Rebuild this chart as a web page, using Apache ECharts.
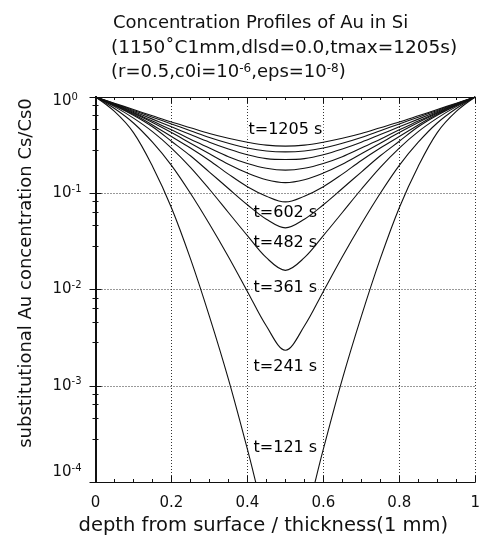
<!DOCTYPE html>
<html><head><meta charset="utf-8">
<script src="https://cdn.jsdelivr.net/npm/echarts@6/dist/echarts.min.js"></script>
<style>html,body{margin:0;padding:0;background:#fff}#c{width:483px;height:541px}</style>
</head><body><div id="c"></div>
<script>
// depth / thickness
const xValues = [0,0.05,0.1,0.15,0.2,0.25,0.3,0.35,0.4,0.45,0.5,0.55,0.6,0.65,0.7,0.75,0.8,0.85,0.9,0.95,1];
// Cs/Cs0 profiles
const c121  = [1,0.708,0.427,0.191,0.0708,0.0209,0.00525,0.00117,0.000219,0.000038,0.00001,0.000038,0.000219,0.00117,0.00525,0.0209,0.0708,0.191,0.427,0.708,1];
const c241  = [1,0.759,0.537,0.339,0.195,0.100,0.0479,0.0219,0.00955,0.00417,0.00234,0.00417,0.00955,0.0219,0.0479,0.100,0.195,0.339,0.537,0.759,1];
const c361  = [1,0.794,0.603,0.437,0.295,0.186,0.110,0.0631,0.0363,0.0214,0.0158,0.0214,0.0363,0.0631,0.110,0.186,0.295,0.437,0.603,0.794,1];
const c482  = [1,0.813,0.646,0.490,0.347,0.245,0.166,0.112,0.0759,0.0537,0.0437,0.0537,0.0759,0.112,0.166,0.245,0.347,0.490,0.646,0.813,1];
const c602  = [1,0.822,0.661,0.513,0.389,0.295,0.219,0.158,0.117,0.0933,0.0813,0.0933,0.117,0.158,0.219,0.295,0.389,0.513,0.661,0.822,1];
const c723  = [1,0.832,0.676,0.543,0.427,0.331,0.257,0.200,0.162,0.138,0.129,0.138,0.162,0.200,0.257,0.331,0.427,0.543,0.676,0.832,1];
const c843  = [1,0.838,0.692,0.562,0.457,0.363,0.295,0.240,0.204,0.182,0.174,0.182,0.204,0.240,0.295,0.363,0.457,0.562,0.692,0.838,1];
const c964  = [1,0.845,0.708,0.589,0.490,0.407,0.339,0.288,0.251,0.229,0.224,0.229,0.251,0.288,0.339,0.407,0.490,0.589,0.708,0.845,1];
const c1084 = [1,0.853,0.724,0.617,0.525,0.447,0.380,0.331,0.295,0.275,0.269,0.275,0.295,0.331,0.380,0.447,0.525,0.617,0.724,0.853,1];
const c1205 = [1,0.861,0.741,0.638,0.550,0.479,0.417,0.372,0.339,0.316,0.309,0.316,0.339,0.372,0.417,0.479,0.550,0.638,0.741,0.861,1];
const times = ['121','241','361','482','602','723','843','964','1084','1205'];
const profiles = [c121,c241,c361,c482,c602,c723,c843,c964,c1084,c1205];
// curve annotations
const labelTexts = ['t=1205 s','t=602 s','t=482 s','t=361 s','t=241 s','t=121 s'];
const labelX = [0.5,0.5,0.5,0.5,0.5,0.5];
const labelY = [0.454,0.0624,0.0304,0.0104,0.00157,0.000226];
const xTickLabels = {0:'0',0.2:'0.2',0.4:'0.4',0.6:'0.6',0.8:'0.8',1:'1'};

const FONT = 'DejaVu Sans';
const chart = echarts.init(document.getElementById('c'), null, {renderer:'canvas'});

const series = profiles.map((arr, k) => ({
  type: 'line', name: 't=' + times[k] + ' s',
  data: xValues.map((x, i) => [x, arr[i]]),
  smooth: 0.35, showSymbol: false, symbol: 'none', clip: true, z: 3,
  lineStyle: {color: '#111', width: 1.1}
}));
series.push({
  type: 'scatter', z: 1, symbolSize: 1, itemStyle: {color: 'rgba(0,0,0,0)'},
  data: labelX.map((x, i) => [x, labelY[i]]),
  label: {show: true, position: 'inside', formatter: p => labelTexts[p.dataIndex],
    fontFamily: FONT, fontSize: 16, color: '#000', opacity: 1, backgroundColor: '#fff', padding: [0, 1]}
});

const supFmt = v => {
  const e = Math.round(Math.log10(v));
  if (e === 0) return '{g| }\n{b|10}{s|' + e + '}';
  if (e === -4) return '{b|10}{s|' + e + '}\n{g2| }';
  return '{b|10}{s|' + e + '}';
};
const tickRich = {
  b:  {fontFamily: FONT, fontSize: 15, color: '#111', lineHeight: 18},
  s:  {fontFamily: FONT, fontSize: 10, color: '#111', lineHeight: 10, verticalAlign: 'top'},
  g:  {fontSize: 4, lineHeight: 8},
  g2: {fontSize: 10, lineHeight: 20}
};

chart.setOption({
  animation: false,
  backgroundColor: '#fff',
  title: [
    {text: 'Concentration Profiles of Au in Si', left: 108, top: 9,
     textStyle: {fontFamily: FONT, fontSize: 18, fontWeight: 'normal', color: '#111'}},
    {text: '(1150\u02daC1mm,dlsd=0.0,tmax=1205s)', left: 106, top: 34,
     textStyle: {fontFamily: FONT, fontSize: 18.5, fontWeight: 'normal', color: '#111'}},
    {text: '(r=0.5,c0i=10{s|-6},eps=10{s|-8})', left: 106, top: 58,
     textStyle: {fontFamily: FONT, fontSize: 18, fontWeight: 'normal', color: '#111',
       rich: {s: {fontFamily: FONT, fontSize: 12, color: '#111', verticalAlign: 'top', lineHeight: 12}}}}
  ],
  graphic: [
    {type: 'text', x: 26, y: 273, rotation: Math.PI / 2,
     style: {text: 'substitutional Au concentration Cs/Cs0', fontFamily: FONT, fontSize: 18,
       fill: '#111', align: 'center', verticalAlign: 'middle'}}
  ],
  grid: {left: 95.5, right: 6, top: 97, bottom: 59, containLabel: false},
  xAxis: [
    {type: 'value', min: 0, max: 1, interval: 0.2, position: 'bottom',
     name: 'depth from surface / thickness(1 mm)', nameLocation: 'middle', nameGap: 34,
     nameTextStyle: {fontFamily: FONT, fontSize: 19.5, color: '#111', padding: [0, 44, 0, 0]},
     axisLine: {show: true, lineStyle: {color: '#111', width: 1.2}},
     axisTick: {show: true, inside: true, length: 6, lineStyle: {color: '#111'}},
     minorTick: {show: true, splitNumber: 4, length: 3, lineStyle: {color: '#111'}},
     splitLine: {show: true, lineStyle: {type: [1, 2], color: '#333', width: 1}},
     axisLabel: {margin: 14, fontFamily: FONT, fontSize: 15, color: '#111',
       formatter: v => xTickLabels[Math.round(v*10)/10]}},
    {type: 'value', min: 0, max: 1, interval: 0.2, position: 'top',
     axisLine: {show: true, lineStyle: {color: '#111', width: 1.2}},
     axisTick: {show: true, inside: true, length: 6, lineStyle: {color: '#111'}},
     minorTick: {show: true, splitNumber: 4, length: 3, lineStyle: {color: '#111'}},
     splitLine: {show: false}, axisLabel: {show: false}}
  ],
  yAxis: [
    {type: 'log', logBase: 10, min: 0.0001, max: 1, position: 'left',
     axisLine: {show: true, lineStyle: {color: '#111', width: 2}},
     axisTick: {show: true, inside: true, length: 6, lineStyle: {color: '#111'}},
     minorTick: {show: true, splitNumber: 5, length: 3, lineStyle: {color: '#111'}},
     splitLine: {show: true, lineStyle: {type: [1, 2], color: '#333', width: 1}},
     axisLabel: {margin: 43, align: 'left', formatter: supFmt, rich: tickRich}},
    {type: 'log', logBase: 10, min: 0.0001, max: 1, position: 'right',
     axisLine: {show: true, lineStyle: {color: '#111', width: 2}},
     axisTick: {show: true, inside: true, length: 6, lineStyle: {color: '#111'}},
     minorTick: {show: true, splitNumber: 5, length: 3, lineStyle: {color: '#111'}},
     splitLine: {show: false}, axisLabel: {show: false}}
  ],
  series: series
});
</script></body></html>
